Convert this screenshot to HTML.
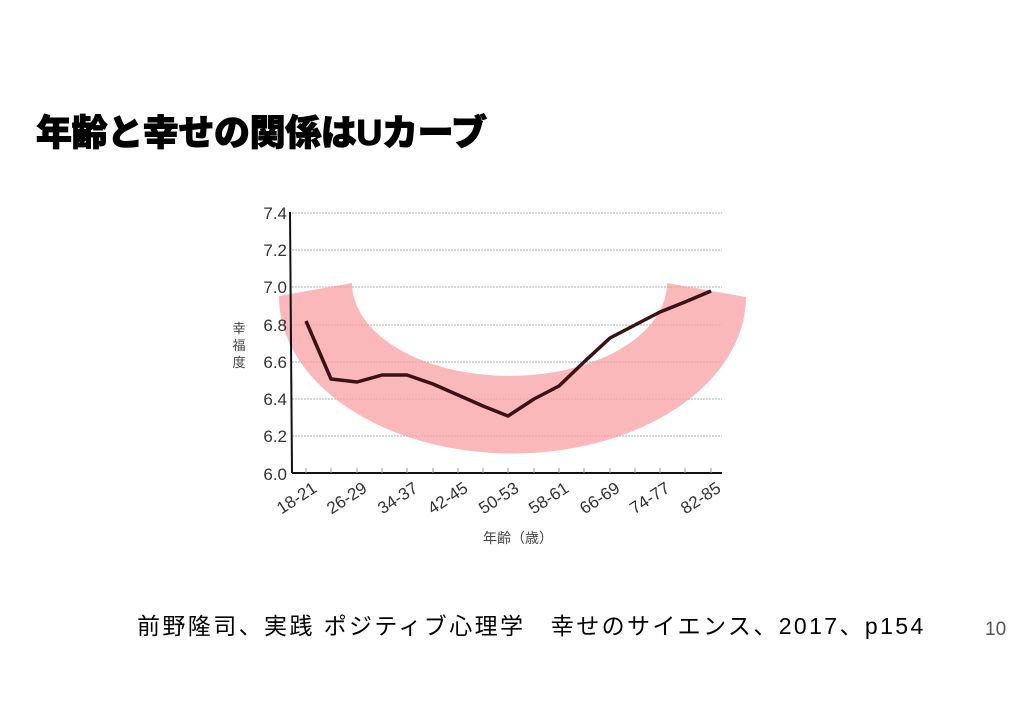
<!DOCTYPE html>
<html><head><meta charset="utf-8"><style>
body{margin:0;width:1024px;height:722px;background:#fff;overflow:hidden;position:relative;font-family:"Liberation Sans","Noto Sans CJK JP",sans-serif}
.t{position:absolute;left:36px;top:104px;font-size:36px;font-weight:900;letter-spacing:-0.4px;-webkit-text-stroke:1px #000;color:#000;white-space:nowrap}
.c{position:absolute;left:137px;top:607px;font-size:23px;letter-spacing:2.4px;color:#000;white-space:nowrap}
.p{position:absolute;left:985px;top:619px;font-size:19px;color:#555}
</style></head><body>
<div class="t">年齢と幸せの関係はUカーブ</div>
<svg width="1024" height="722" style="position:absolute;left:0;top:0" font-family="Liberation Sans, Noto Sans CJK JP, sans-serif">
<g stroke="#c8c8c8" stroke-width="1.5" stroke-dasharray="2,1">
<line x1="292" y1="213" x2="722" y2="213"/><line x1="292" y1="250" x2="722" y2="250"/>
<line x1="292" y1="287" x2="722" y2="287"/><line x1="292" y1="325" x2="722" y2="325"/>
<line x1="292" y1="362" x2="722" y2="362"/><line x1="292" y1="399" x2="722" y2="399"/>
<line x1="292" y1="436" x2="722" y2="436"/>
</g>
<path d="M279,296 L352,283 A157.5,93 0 0 0 667,283 L746,297 A233.5,157 0 0 1 279,296 Z" fill="#f8a0a4" fill-opacity="0.75"/>
<line x1="290" y1="212" x2="292" y2="473" stroke="#111" stroke-width="2"/>
<line x1="292" y1="473" x2="722" y2="473" stroke="#111" stroke-width="2"/>
<g stroke="#999" stroke-width="1">
<line x1="306" y1="468" x2="306" y2="473"/><line x1="331" y1="468" x2="331" y2="473"/><line x1="357" y1="468" x2="357" y2="473"/><line x1="382" y1="468" x2="382" y2="473"/><line x1="407" y1="468" x2="407" y2="473"/><line x1="433" y1="468" x2="433" y2="473"/><line x1="458" y1="468" x2="458" y2="473"/><line x1="483" y1="468" x2="483" y2="473"/><line x1="508" y1="468" x2="508" y2="473"/><line x1="534" y1="468" x2="534" y2="473"/><line x1="559" y1="468" x2="559" y2="473"/><line x1="584" y1="468" x2="584" y2="473"/><line x1="610" y1="468" x2="610" y2="473"/><line x1="635" y1="468" x2="635" y2="473"/><line x1="660" y1="468" x2="660" y2="473"/><line x1="685" y1="468" x2="685" y2="473"/><line x1="711" y1="468" x2="711" y2="473"/>
</g>
<polyline fill="none" stroke="#3a1215" stroke-width="3.5" stroke-linejoin="round" points="306,321 331,379 357,382 382,375 407,375 433,384 458,395 483,406 508,416 534,399 559,386 584,362 610,338 635,325 660,312 685,302 711,291"/>
<g font-size="17" fill="#333" text-anchor="end">
<text x="287" y="219">7.4</text><text x="287" y="256">7.2</text><text x="287" y="293">7.0</text><text x="287" y="331">6.8</text><text x="287" y="368">6.6</text><text x="287" y="405">6.4</text><text x="287" y="442">6.2</text><text x="287" y="480">6.0</text>
</g>
<g font-size="17" fill="#333" text-anchor="end">
<text transform="translate(318,491) rotate(-33)">18-21</text>
<text transform="translate(368,491) rotate(-33)">26-29</text>
<text transform="translate(419,491) rotate(-33)">34-37</text>
<text transform="translate(469,491) rotate(-33)">42-45</text>
<text transform="translate(520,491) rotate(-33)">50-53</text>
<text transform="translate(570,491) rotate(-33)">58-61</text>
<text transform="translate(621,491) rotate(-33)">66-69</text>
<text transform="translate(671,491) rotate(-33)">74-77</text>
<text transform="translate(722,491) rotate(-33)">82-85</text>
</g>
<g font-size="13" fill="#444" text-anchor="middle">
<text x="239" y="333">幸</text><text x="239" y="350">福</text><text x="239" y="367">度</text>
<text x="518" y="543" font-size="14">年齢（歳）</text>
</g>
</svg>
<div class="c">前野隆司、実践 ポジティブ心理学　幸せのサイエンス、2017、p154</div>
<div class="p">10</div>
</body></html>
